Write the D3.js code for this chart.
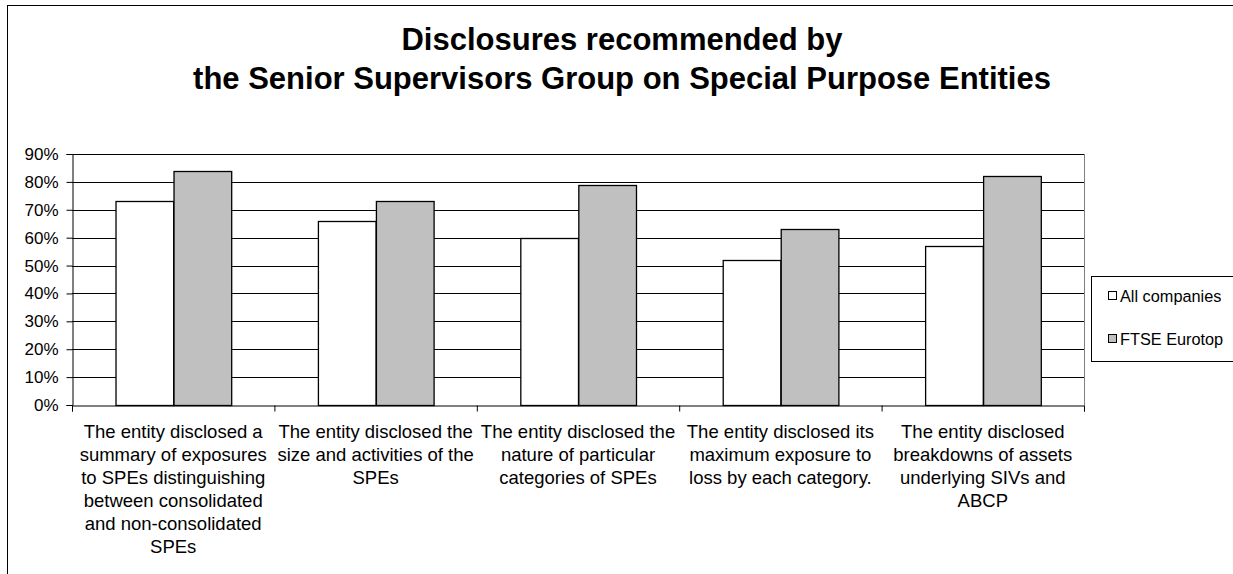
<!DOCTYPE html>
<html>
<head>
<meta charset="utf-8">
<script src="https://cdn.jsdelivr.net/npm/d3@7"></script>
<style>
  body { margin: 0; background: #fff; }
  svg text { font-family: "Liberation Sans", Arial, sans-serif; fill: #000; }
</style>
</head>
<body>
<svg id="chart" width="1233" height="574"></svg>
<script>
// chart data
const titleLines = [
    'Disclosures recommended by',
    'the Senior Supervisors Group on Special Purpose Entities'
];
const categories = ['c1', 'c2', 'c3', 'c4', 'c5'];
const categoryLabels = [
    ['The entity disclosed a', 'summary of exposures', 'to SPEs distinguishing', 'between consolidated', 'and non-consolidated', 'SPEs'],
    ['The entity disclosed the', 'size and activities of the', 'SPEs'],
    ['The entity disclosed the', 'nature of particular', 'categories of SPEs'],
    ['The entity disclosed its', 'maximum exposure to', 'loss by each category.'],
    ['The entity disclosed', 'breakdowns of assets', 'underlying SIVs and', 'ABCP']
];
const seriesNames = ['All companies', 'FTSE Eurotop'];
const seriesColors = ['#ffffff', '#c0c0c0'];
const allCompanies = [0.73, 0.66, 0.60, 0.52, 0.57];
const ftseEurotop = [0.84, 0.73, 0.79, 0.63, 0.82];
const yTicks = [0, 0.1, 0.2, 0.3, 0.4, 0.5, 0.6, 0.7, 0.8, 0.9];

const svg = d3.select('#chart');
const plot = { left: 72, right: 1084, top: 154, bottom: 405 };

// outer chart border (top + left visible)
svg.append('rect')
    .attr('x', 7.5).attr('y', 5.5)
    .attr('width', 1300).attr('height', 700)
    .attr('fill', 'none').attr('stroke', '#000');

// title
svg.append('g').selectAll('text')
    .data(titleLines)
    .join('text')
    .attr('x', 622)
    .attr('y', (d, i) => 50 + i * 39)
    .attr('text-anchor', 'middle')
    .attr('font-size', 31)
    .attr('font-weight', 'bold')
    .text(d => d);

const y = d3.scaleLinear().domain([0, 0.9]).range([plot.bottom, plot.top]);
const x0 = d3.scaleBand().domain(categories)
    .range([plot.left, plot.right])
    .paddingInner(0.43).paddingOuter(0.215);
const x1 = d3.scaleBand().domain(seriesNames).range([0, x0.bandwidth()]);
const xEdges = d3.scaleLinear().domain([0, categories.length]).range([plot.left, plot.right]);

// gridlines
svg.append('g').selectAll('line')
    .data(yTicks.filter(d => d > 0))
    .join('line')
    .attr('x1', plot.left).attr('x2', plot.right)
    .attr('y1', d => Math.round(y(d)) + 0.5).attr('y2', d => Math.round(y(d)) + 0.5)
    .attr('stroke', '#000');

// plot area right border
svg.append('line')
    .attr('x1', plot.right + 0.5).attr('x2', plot.right + 0.5)
    .attr('y1', plot.top).attr('y2', plot.bottom)
    .attr('stroke', '#808080');

// bars
const rows = categories.map((c, i) => ({ cat: c, values: [allCompanies[i], ftseEurotop[i]] }));
svg.append('g').selectAll('g')
    .data(rows)
    .join('g')
    .attr('transform', d => `translate(${x0(d.cat)},0)`)
    .selectAll('rect')
    .data(d => d.values.map((v, j) => ({ name: seriesNames[j], value: v, color: seriesColors[j] })))
    .join('rect')
    .attr('x', d => Math.round(x1(d.name)) + 0.5)
    .attr('y', d => Math.round(y(d.value)) + 0.5)
    .attr('width', x1.bandwidth())
    .attr('height', d => Math.round(y(0)) - Math.round(y(d.value)))
    .attr('fill', d => d.color)
    .attr('stroke', '#000')
    .attr('stroke-width', 1.3);

// y axis
const yAxis = svg.append('g')
    .attr('transform', `translate(${plot.left + 0.5},0)`)
    .call(d3.axisLeft(y).tickValues(yTicks).tickFormat(d3.format('.0%')).tickSize(6).tickPadding(8));
yAxis.select('.domain').attr('stroke', '#000');
yAxis.selectAll('text').attr('font-size', 17).attr('font-family', '"Liberation Sans", Arial, sans-serif');

// x axis (ticks between categories)
const xAxis = svg.append('g')
    .attr('transform', `translate(0,${Math.round(y(0)) + 0.5})`)
    .call(d3.axisBottom(xEdges).ticks(categories.length).tickFormat('').tickSizeOuter(0).tickSize(6));
xAxis.select('.domain').attr('stroke', '#000');

// category labels
svg.append('g').selectAll('text')
    .data(categories)
    .join('text')
    .attr('text-anchor', 'middle')
    .attr('font-size', 18.5)
    .attr('transform', d => `translate(${x0(d) + x0.bandwidth() / 2},438)`)
    .each(function (d, i) {
        d3.select(this).selectAll('tspan')
            .data(categoryLabels[i])
            .join('tspan')
            .attr('x', 0)
            .attr('y', (l, k) => k * 23)
            .text(l => l);
    });

// legend
const legend = svg.append('g').attr('transform', 'translate(1091,276)');
legend.append('rect')
    .attr('x', 0.5).attr('y', 0.5)
    .attr('width', 160).attr('height', 85)
    .attr('fill', '#fff').attr('stroke', '#000');
const items = legend.selectAll('g.item')
    .data(seriesNames)
    .join('g')
    .attr('class', 'item')
    .attr('transform', (d, i) => `translate(17,${20 + i * 43})`);
items.append('rect')
    .attr('x', 0.5).attr('y', -4.5)
    .attr('width', 8).attr('height', 8)
    .attr('fill', (d, i) => seriesColors[i])
    .attr('stroke', '#000');
items.append('text')
    .attr('x', 12).attr('y', 5.5)
    .attr('font-size', 16.3)
    .text(d => d);
</script>
</body>
</html>
